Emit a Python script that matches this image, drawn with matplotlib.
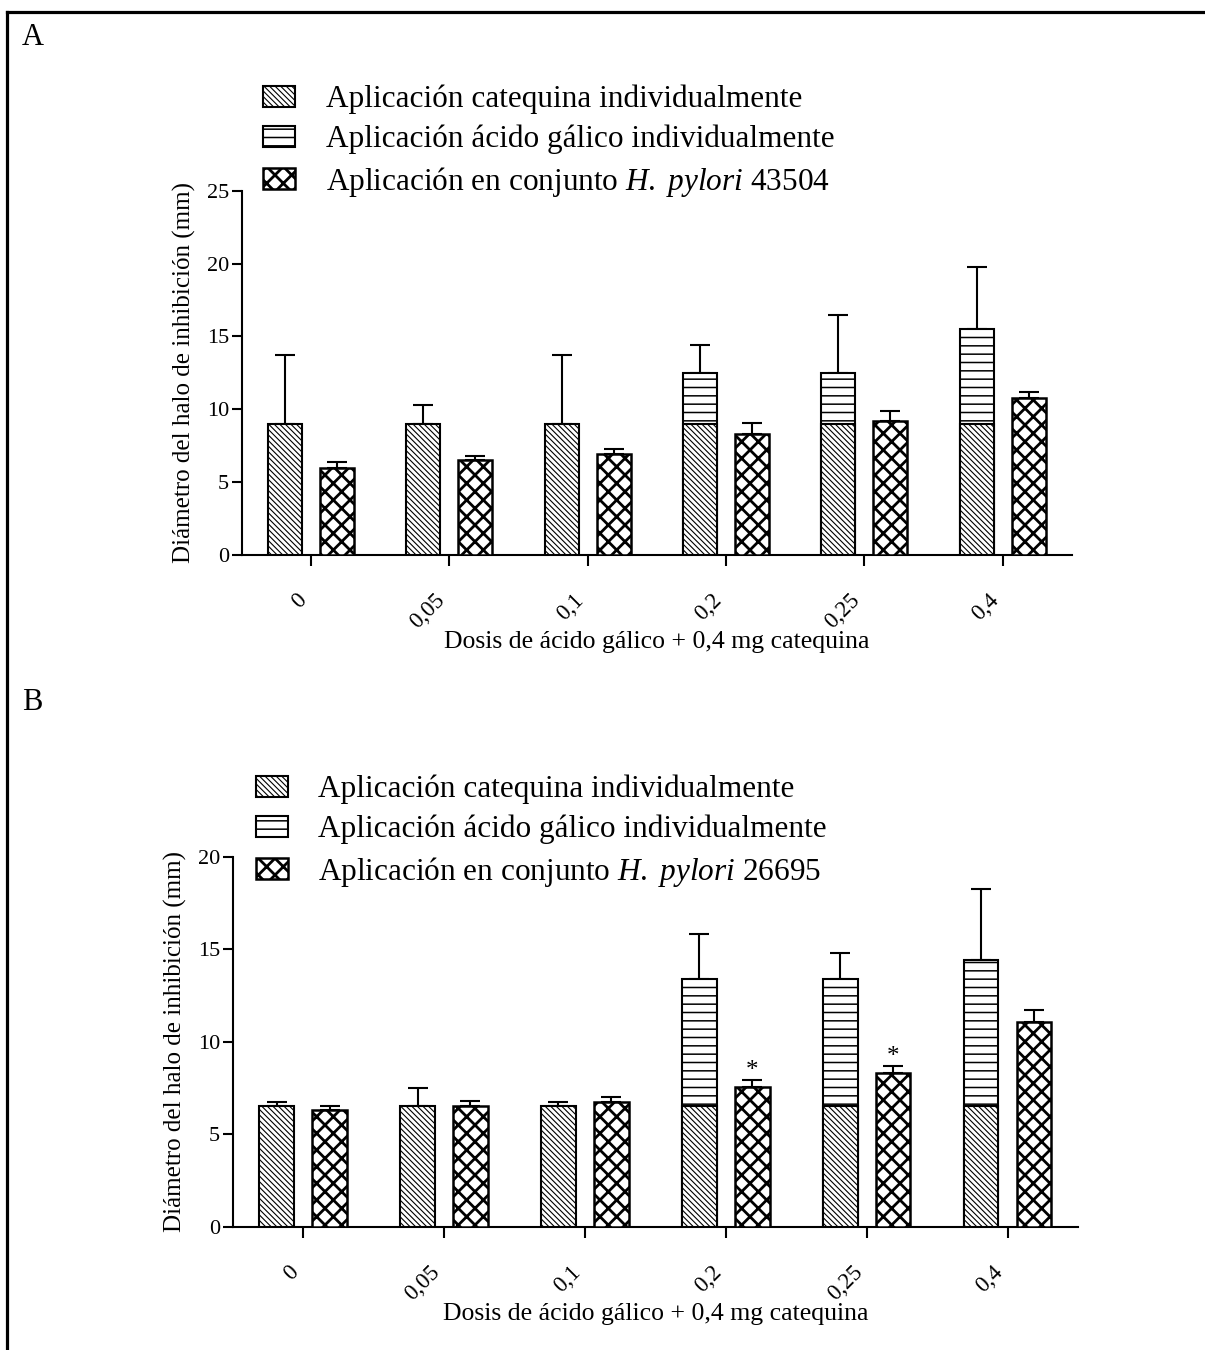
import matplotlib
matplotlib.use("Agg")
import matplotlib.pyplot as plt
import numpy as np

plt.rcParams['font.family'] = ['Liberation Serif', 'DejaVu Serif']
plt.rcParams['mathtext.fontset'] = 'custom'
plt.rcParams['mathtext.rm'] = 'Liberation Serif'
plt.rcParams['mathtext.it'] = 'Liberation Serif:italic'

doses = ['0', '0,05', '0,1', '0,2', '0,25', '0,4']

# Panel A (H. pylori 43504)
a_cat = [9.0, 9.0, 9.0, 9.0, 9.0, 9.0]
a_cat_err = [4.7, 1.3, 4.7, np.nan, np.nan, np.nan]
a_gal = [np.nan, np.nan, np.nan, 12.5, 12.5, 15.5]
a_gal_err = [np.nan, np.nan, np.nan, 1.9, 4.0, 4.3]
a_comb = [6.0, 6.5, 6.9, 8.3, 9.2, 10.8]
a_comb_err = [0.4, 0.3, 0.35, 0.75, 0.7, 0.4]

# Panel B (H. pylori 26695)
b_cat = [6.5, 6.5, 6.5, 6.5, 6.5, 6.5]
b_cat_err = [0.25, 1.0, 0.25, np.nan, np.nan, np.nan]
b_gal = [np.nan, np.nan, np.nan, 13.4, 13.4, 14.4]
b_gal_err = [np.nan, np.nan, np.nan, 2.4, 1.4, 3.85]
b_comb = [6.3, 6.5, 6.75, 7.55, 8.3, 11.05]
b_comb_err = [0.25, 0.28, 0.25, 0.4, 0.4, 0.65]
b_sig = [False, False, False, True, True, False]

labels_common = ['Aplicación catequina individualmente',
                 'Aplicación ácido gálico individualmente']
strain_a = 'Aplicación en conjunto $\\it{H.\\ pylori}$ 43504'
strain_b = 'Aplicación en conjunto $\\it{H.\\ pylori}$ 26695'

ylabel = 'Diámetro del halo de inhibición (mm)'
xlabel = 'Dosis de ácido gálico + 0,4 mg catequina'

HLW_GAL, HLW_CAT, HLW_COMB = 1.1, 0.8, 2.0

fig = plt.figure(figsize=(12.05, 13.5), dpi=100)

def set_hlw(patches, lw):
    for p in patches:
        if hasattr(p, 'set_hatch_linewidth'):
            p.set_hatch_linewidth(lw)

def panel(ax, cat, cat_err, gal, gal_err, comb, comb_err, ymax, sig=None):
    x = np.arange(len(doses))
    w = 0.246
    off = 0.188
    ekw = dict(elinewidth=1.5, capthick=1.5)
    plt.rcParams['hatch.linewidth'] = HLW_GAL
    g = ax.bar(x - off, gal, w, color='white', edgecolor='black', linewidth=1.5,
               hatch='--', zorder=2)
    set_hlw(g, HLW_GAL)
    ax.errorbar(x - off, gal, yerr=[np.zeros(len(gal)), gal_err], fmt='none',
                ecolor='black', capsize=7, zorder=1, **ekw)
    plt.rcParams['hatch.linewidth'] = HLW_CAT
    c = ax.bar(x - off, cat, w, color='white', edgecolor='black', linewidth=1.5,
               hatch='\\' * 6, zorder=3)
    set_hlw(c, HLW_CAT)
    ax.errorbar(x - off, cat, yerr=[np.zeros(len(cat)), cat_err], fmt='none',
                ecolor='black', capsize=7, zorder=1, **ekw)
    plt.rcParams['hatch.linewidth'] = HLW_COMB
    k = ax.bar(x + off, comb, w, color='white', edgecolor='black', linewidth=1.8,
               hatch='xx', zorder=3)
    set_hlw(k, HLW_COMB)
    ax.errorbar(x + off, comb, yerr=[np.zeros(len(comb)), comb_err], fmt='none',
                ecolor='black', capsize=7, zorder=1, **ekw)
    if sig is not None:
        for xi, s, v, e in zip(x, sig, comb, comb_err):
            if s:
                ax.text(xi + off, v + e - 0.1, '*', ha='center', va='bottom',
                        fontsize=18)
    ax.set_xlim(-0.5, 5.5)
    ax.set_ylim(0, ymax)
    ax.set_yticks(np.arange(0, ymax + 1, 5))
    ax.set_xticks(x)
    ax.set_xticklabels(doses, rotation=45, ha='right', va='top')
    for s in ['top', 'right']:
        ax.spines[s].set_visible(False)
    for s in ['left', 'bottom']:
        ax.spines[s].set_linewidth(1.5)
    ax.tick_params(axis='y', length=7, width=1.5, labelsize=16, pad=2)
    ax.tick_params(axis='x', length=8, width=1.5, labelsize=16.5, pad=17)
    ax.set_ylabel(ylabel, fontsize=18, labelpad=8)
    ax.set_xlabel(xlabel, fontsize=18.5, labelpad=-1)
    return c, g, k

axA = fig.add_axes([0.2006, 0.5889, 0.689, 0.2698])
cA, gA, kA = panel(axA, a_cat, a_cat_err, a_gal, a_gal_err, a_comb, a_comb_err, 25)
axB = fig.add_axes([0.1931, 0.0913, 0.7015, 0.2741])
cB, gB, kB = panel(axB, b_cat, b_cat_err, b_gal, b_gal_err, b_comb, b_comb_err, 20, b_sig)

legkw = dict(loc='upper left', frameon=False, fontsize=22.5, handlelength=1.03,
             handleheight=0.65, handletextpad=0.97, labelspacing=0.33,
             borderaxespad=0, borderpad=0)
legs = []
legs.append(fig.legend([cA, gA, kA], labels_common + [strain_a],
                       bbox_to_anchor=(263 / 1205, 1 - 85 / 1350), **legkw))
legs.append(fig.legend([cB, gB, kB], labels_common + [strain_b],
                       bbox_to_anchor=(256 / 1205, 1 - 775 / 1350), **legkw))
for leg in legs:
    hs = getattr(leg, 'legend_handles', None) or getattr(leg, 'legendHandles', [])
    for h, lw in zip(hs, [HLW_CAT, HLW_GAL, HLW_COMB]):
        if hasattr(h, 'set_hatch_linewidth'):
            h.set_hatch_linewidth(lw)

fig.text(22 / 1205, 1 - 23 / 1350, 'A', fontsize=22, ha='left', va='top')
fig.text(22 / 1205, 1 - 688 / 1350, 'B', fontsize=22, ha='left', va='top')

# outer frame of the figure
fig.add_artist(plt.Line2D([7 / 1205, 1.0], [1 - 12 / 1350, 1 - 12 / 1350],
                          transform=fig.transFigure, color='black', lw=2.3))
fig.add_artist(plt.Line2D([7 / 1205, 7 / 1205], [0, 1 - 12 / 1350],
                          transform=fig.transFigure, color='black', lw=2.3))

fig.savefig('out.png', dpi=100, facecolor='white')
